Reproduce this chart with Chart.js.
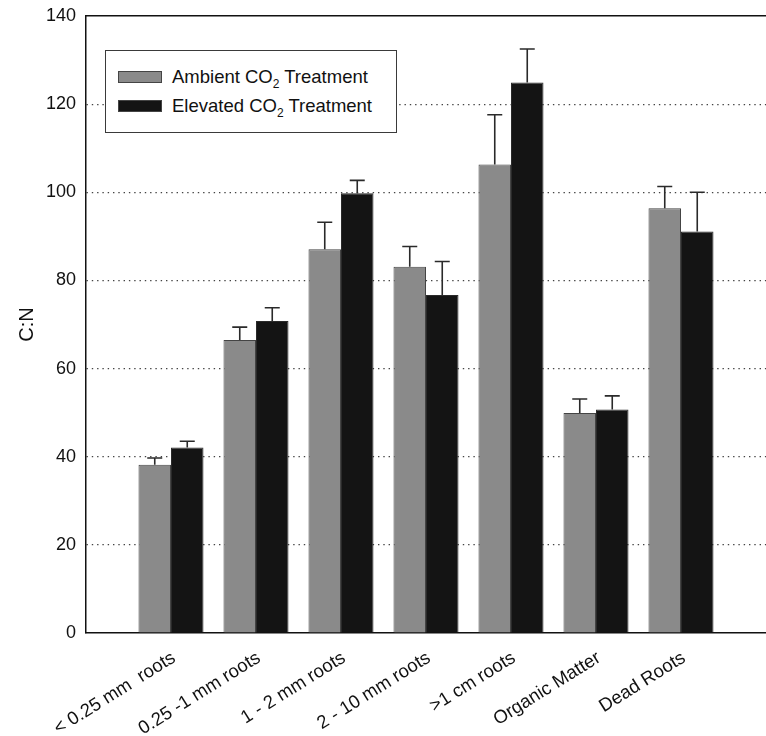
<!DOCTYPE html>
<html>
<head>
<meta charset="utf-8">
<script src="https://cdn.jsdelivr.net/npm/chart.js@4/dist/chart.umd.min.js"></script>
<style>
  html, body { margin: 0; padding: 0; background: #fff; }
  #wrap { position: relative; width: 766px; height: 736px; }
  #legend {
    position: absolute; left: 105px; top: 50px; width: 292px; height: 83px;
    box-sizing: border-box; border: 1px solid #3a3a3a; background: #fff;
    font-family: "Liberation Sans", Arial, sans-serif; font-size: 18.5px; color: #111;
  }
  #legend .row { position: absolute; left: 12px; height: 14px; display: flex; align-items: center; }
  #legend .sw { width: 44px; height: 12px; box-sizing: border-box; border: 1px solid #444; margin-right: 10px; }
  #legend .txt { white-space: nowrap; line-height: 14px; }
  #legend sub { font-size: 12px; vertical-align: -5px; line-height: 0; }
</style>
</head>
<body>
<div id="wrap">
  <canvas id="chart" width="766" height="736"></canvas>
  <div id="legend"></div>
</div>
<script>
// Root / litter fractions
const categories = ['< 0.25 mm  roots', '0.25 -1 mm roots', '1 - 2 mm roots', '2 - 10 mm roots', '>1 cm roots', 'Organic Matter', 'Dead Roots'];
// C:N ratio means and standard errors
const ambient     = [38.2, 66.5, 87.1, 83.1, 106.3, 49.9, 96.4];
const ambientErr  = [1.5, 2.9, 6.1, 4.6, 11.3, 3.2, 4.9];
const elevated    = [42.1, 70.8, 99.8, 76.7, 124.9, 50.7, 91.1];
const elevatedErr = [1.4, 3.0, 2.9, 7.6, 7.6, 3.1, 8.9];
const yTicks = [0, 20, 40, 60, 80, 100, 120, 140];
const seriesNames = ['Ambient CO\u2082 Treatment', 'Elevated CO\u2082 Treatment'];

const FONT = '"Liberation Sans", Arial, sans-serif';

const toPoints = arr => arr.map((v, i) => ({ x: i + 1, y: v }));

const errorBars = {
  id: 'errorBars',
  afterDatasetsDraw(chart) {
    const ctx = chart.ctx;
    const yScale = chart.scales.y;
    const errs = [ambientErr, elevatedErr];
    ctx.save();
    ctx.strokeStyle = '#2a2a2a';
    ctx.lineWidth = 1.6;
    chart.data.datasets.forEach((ds, di) => {
      const meta = chart.getDatasetMeta(di);
      meta.data.forEach((bar, i) => {
        const top = yScale.getPixelForValue(ds.data[i].y + errs[di][i]);
        ctx.beginPath();
        ctx.moveTo(bar.x, bar.y);
        ctx.lineTo(bar.x, top);
        ctx.moveTo(bar.x - 7.5, top);
        ctx.lineTo(bar.x + 7.5, top);
        ctx.stroke();
      });
    });
    ctx.restore();
  }
};

const chart = new Chart(document.getElementById('chart'), {
  type: 'bar',
  data: {
    datasets: [
      { label: seriesNames[0], data: toPoints(ambient), backgroundColor: '#8a8a8a', borderColor: '#444', borderWidth: 1 },
      { label: seriesNames[1], data: toPoints(elevated), backgroundColor: '#141414', borderColor: '#2a2a2a', borderWidth: 1 }
    ]
  },
  options: {
    responsive: false,
    animation: false,
    layout: { padding: { left: 0, right: 0, top: 16, bottom: 0 } },
    datasets: { bar: { categoryPercentage: 65 / 85, barPercentage: 1 } },
    plugins: { legend: { display: false }, tooltip: { enabled: false } },
    scales: {
      x: {
        type: 'linear', min: 0, max: 8, offset: false,
        grid: { display: false },
        border: { display: true, color: '#111', width: 1.5 },
        ticks: {
          stepSize: 1, autoSkip: false, maxRotation: 32, minRotation: 32, padding: 6, labelOffset: 3,
          color: '#111', font: { family: FONT, size: 18.5 },
          callback: v => (v >= 1 && v <= categories.length) ? categories[v - 1] : ''
        },
        afterFit(scale) { scale.height = 103; scale.paddingLeft = 0; scale.paddingRight = 0; }
      },
      xTop: {
        type: 'linear', position: 'top', min: 0, max: 8,
        grid: { display: false },
        ticks: { display: false },
        border: { display: true, color: '#111', width: 1.5 },
        afterFit(scale) { scale.height = 0; scale.paddingLeft = 0; scale.paddingRight = 0; }
      },
      y: {
        min: 0, max: 140,
        afterBuildTicks(scale) { scale.ticks = yTicks.map(v => ({ value: v })); },
        grid: {
          drawTicks: false,
          color: ctx => (ctx.tick && ctx.tick.value > 0 && ctx.tick.value < 140) ? '#444' : 'rgba(0,0,0,0)',
          lineWidth: 1.2
        },
        border: { display: true, color: '#111', width: 1.5, dash: [1.4, 3.9] },
        ticks: { padding: 10, color: '#111', font: { family: FONT, size: 18 } },
        title: { display: true, text: 'C:N', color: '#111', font: { family: FONT, size: 20 }, padding: { top: 15, bottom: 0 } },
        afterFit(scale) { scale.width = 86; scale.paddingTop = 0; scale.paddingBottom = 0; }
      }
    }
  },
  plugins: [errorBars]
});

// Legend built from the chart's datasets
const legendEl = document.getElementById('legend');
chart.data.datasets.forEach((ds, i) => {
  const row = document.createElement('div');
  row.className = 'row';
  row.style.top = (i === 0 ? 19 : 48) + 'px';
  const sw = document.createElement('div');
  sw.className = 'sw';
  sw.style.background = ds.backgroundColor;
  const txt = document.createElement('span');
  txt.className = 'txt';
  const base = i === 0 ? 'Ambient' : 'Elevated';
  txt.innerHTML = base + ' CO<sub>2</sub> Treatment';
  row.appendChild(sw);
  row.appendChild(txt);
  legendEl.appendChild(row);
});
</script>
</body>
</html>
